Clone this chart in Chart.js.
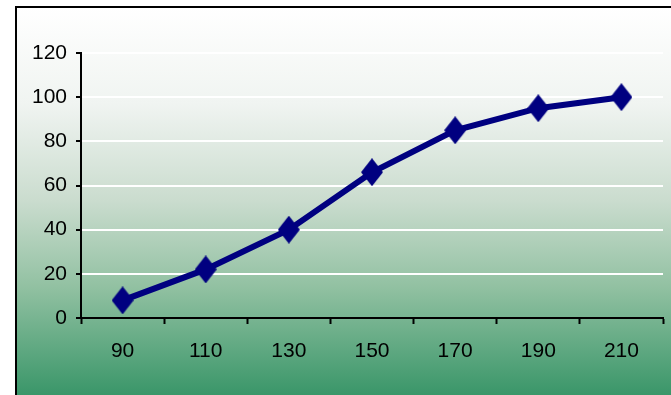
<!DOCTYPE html>
<html>
<head>
<meta charset="utf-8">
<script src="https://cdn.jsdelivr.net/npm/chart.js@4/dist/chart.umd.min.js"></script>
<style>
  html, body { margin: 0; padding: 0; background: #ffffff; }
  #chart { display: block; }
</style>
</head>
<body>
<canvas id="chart" width="671" height="395"></canvas>
<script>
// Categories along the x axis and the plotted series
const categories = ['90', '110', '130', '150', '170', '190', '210'];
const values = [8, 22, 40, 66, 85, 95, 100];
// Value axis range
const yMin = 0;
const yMax = 120;
const yStep = 20;

const FONT = '"Liberation Sans Narrow", "Liberation Sans", Arial, sans-serif';
const NAVY = '#000080';

// Tall diamond marker
function makeDiamond(w, h, color) {
  const c = document.createElement('canvas');
  c.width = w; c.height = h;
  const g = c.getContext('2d');
  g.fillStyle = color;
  g.beginPath();
  g.moveTo(w / 2, 0);
  g.lineTo(w, h / 2);
  g.lineTo(w / 2, h);
  g.lineTo(0, h / 2);
  g.closePath();
  g.fill();
  return c;
}
const diamond = makeDiamond(22, 28, NAVY);

// Framed panel with a white-to-green vertical gradient
const panelBackground = {
  id: 'panelBackground',
  beforeDraw(chart) {
    const ctx = chart.ctx;
    const W = chart.width, H = chart.height;
    const fx = 16, fy = 7;
    ctx.save();
    ctx.fillStyle = '#ffffff';
    ctx.fillRect(0, 0, W, H);
    const grad = ctx.createLinearGradient(0, fy, 0, H);
    grad.addColorStop(0.00, '#ffffff');
    grad.addColorStop(0.25, '#f0f4f1');
    grad.addColorStop(0.50, '#cadcce');
    grad.addColorStop(0.72, '#92c1a2');
    grad.addColorStop(1.00, '#3a9669');
    ctx.fillStyle = grad;
    ctx.fillRect(fx, fy, W - fx, H - fy);
    ctx.strokeStyle = '#000000';
    ctx.lineWidth = 2;
    ctx.beginPath();
    ctx.moveTo(fx, H);
    ctx.lineTo(fx, fy);
    ctx.lineTo(W, fy);
    ctx.stroke();
    ctx.restore();
  }
};

new Chart(document.getElementById('chart'), {
  type: 'line',
  data: {
    labels: categories,
    datasets: [{
      data: values,
      borderColor: NAVY,
      backgroundColor: NAVY,
      borderWidth: 6,
      tension: 0,
      fill: false,
      clip: false,
      pointStyle: diamond,
      pointRadius: 12,
      pointHoverRadius: 12
    }]
  },
  options: {
    responsive: false,
    animation: false,
    events: [],
    layout: { autoPadding: false, padding: { top: 53, right: 8, left: 0, bottom: 0 } },
    plugins: {
      legend: { display: false },
      tooltip: { enabled: false },
      title: { display: false }
    },
    scales: {
      x: {
        type: 'category',
        offset: true,
        afterFit(scale) {
          scale.height = 77;
          scale.paddingLeft = 0;
          scale.paddingRight = 0;
        },
        grid: {
          offset: true,
          drawOnChartArea: false,
          drawTicks: true,
          tickLength: 6,
          tickWidth: 2,
          tickColor: '#000000',
          color: '#000000'
        },
        border: { display: true, color: '#000000', width: 2 },
        ticks: {
          color: '#000000',
          padding: 15,
          maxRotation: 0,
          font: { family: FONT, size: 21 }
        }
      },
      y: {
        min: yMin,
        max: yMax,
        afterFit(scale) { scale.width = 81; },
        grid: {
          drawOnChartArea: true,
          drawTicks: true,
          tickLength: 5,
          tickWidth: 2,
          tickColor: '#000000',
          lineWidth: 2,
          color: (ctx) => (ctx.tick && ctx.tick.value === 0) ? '#000000' : '#ffffff'
        },
        border: { display: true, color: '#000000', width: 2 },
        ticks: {
          stepSize: yStep,
          color: '#000000',
          padding: 9,
          font: { family: FONT, size: 21 }
        }
      }
    }
  },
  plugins: [panelBackground]
});
</script>
</body>
</html>
